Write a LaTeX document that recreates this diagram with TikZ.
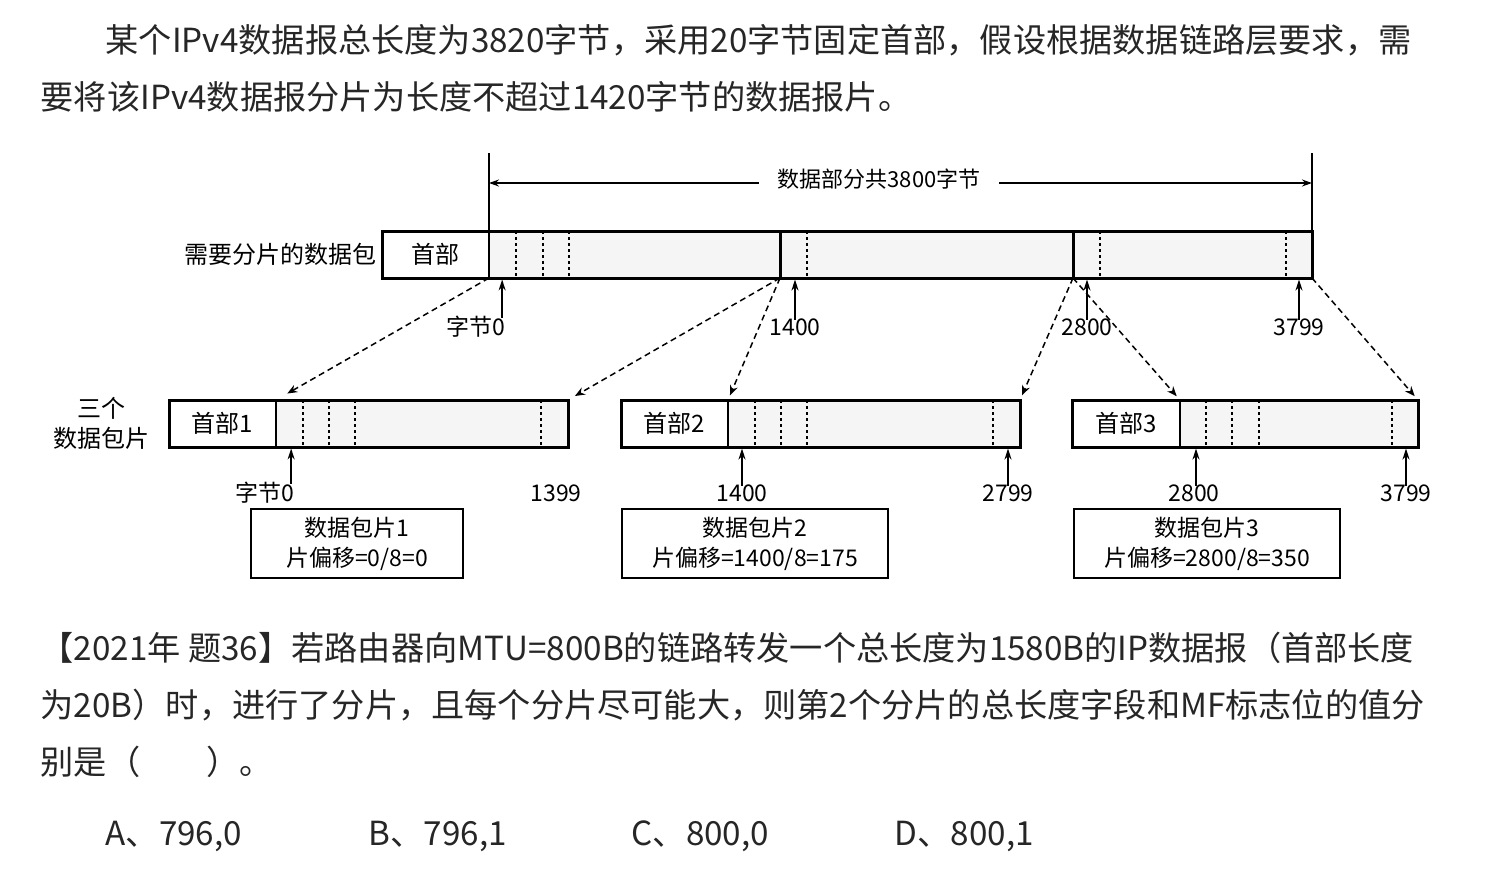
\documentclass[tikz,border=0pt]{standalone}
\usepackage{fontspec}
\setmainfont{Noto Sans CJK SC}
\usetikzlibrary{arrows.meta,positioning,calc}
\tikzset{
every picture/.style={
line width=1.5pt
}}
\tikzset{
  para/.style={anchor=west, inner sep=0pt, text=black!85, font=\fontsize{33.2}{38}\selectfont},
  lbl/.style={inner sep=0pt, font=\fontsize{23}{30}\selectfont},
  side/.style={inner sep=0pt, align=center, font=\fontsize{24}{30}\selectfont},
  hdr/.style={minimum width=107pt, minimum height=47pt, inner sep=0pt, outer sep=0pt,
    anchor=north west, font=\fontsize{24}{28}\selectfont},
  seg/.style={fill=gray!8, minimum height=47pt, inner sep=0pt, outer sep=0pt, anchor=north west},
  box/.style={line width=3pt},
  cut/.style={line width=3pt},
  dots/.style={line width=1.3pt, dash pattern=on 3pt off 3pt},
  up/.style={-{Stealth[length=11pt,width=7pt]}, line width=1.6pt, shorten >=1.5pt},
  frag/.style={dashed, dash pattern=on 6pt off 4pt, -{Stealth[length=10pt,width=8pt]}},
  info/.style={draw, line width=2pt, anchor=north west, align=center, inner sep=0pt,
    minimum height=69pt, font=\fontsize{23}{30}\selectfont},
  dim/.style={-{Stealth[length=10pt,width=7pt]}, line width=1.5pt}
}
\begin{document}
\begin{tikzpicture}[x=1pt, y=-1pt]
\useasboundingbox (0,0) rectangle (1486,871);

% question text
\node[para] (q1) at (105,40) {某个IPv4数据报总长度为3820字节，采用20字节固定首部，假设根据数据链路层要求，需};
\node[para] (q2) at (40,97) {要将该IPv4数据报分片为长度不超过1420字节的数据报片。};

% datagram to be fragmented
\node[hdr] (h0) at (382,231) {首部};
\node[seg, minimum width=291pt] (s1) at (h0.north east) {};
\node[seg, minimum width=293pt] (s2) at (s1.north east) {};
\node[seg, minimum width=239pt] (s3) at (s2.north east) {};
\foreach \d in {27,54,80} \draw[dots] ([xshift=\d pt]s1.north west) -- ([xshift=\d pt]s1.south west);
\draw[dots] ([xshift=27pt]s2.north west) -- ([xshift=27pt]s2.south west);
\foreach \d in {27,213} \draw[dots] ([xshift=\d pt]s3.north west) -- ([xshift=\d pt]s3.south west);
\draw[box] (h0.north west) rectangle (s3.south east);
\draw[cut] (s1.north east) -- (s1.south east) (s2.north east) -- (s2.south east);
\node[side, left=5pt of h0] (pk) {需要分片的数据包};

% data length
\coordinate (dimL) at ([yshift=48pt]s1.north west);
\coordinate (dimR) at ([yshift=48pt]s3.north east);
\draw (s1.south west) -- ([yshift=78pt]s1.north west);
\draw (s3.north east) -- ([yshift=78pt]s3.north east);
\node[lbl, font=\fontsize{22}{26}\selectfont, inner xsep=18pt] (dt) at (879,179) {数据部分共3800字节};
\draw[dim] (dt.west |- dimL) -- (dimL);
\draw[dim] (dt.east |- dimR) -- (dimR);

% byte numbers of the datagram
\node[lbl] (n0) at (476,327) {字节0};
\node[lbl] (n1) at (795,327) {1400};
\node[lbl] (n2) at (1087,327) {2800};
\node[lbl] (n3) at (1299,327) {3799};
\draw[up] ([xshift=-4pt,yshift=-2pt]n0.north east) -- ([xshift=-4pt]n0.north east |- s1.south);
\foreach \n/\s in {n1/s2,n2/s3,n3/s3} \draw[up] ([yshift=-2pt]\n.north) -- (\n.north |- \s.south);

% three fragments
\node[hdr] (h1) at (169,400) {首部1};
\node[seg, minimum width=292pt] (f1) at (h1.north east) {};
\node[hdr] (h2) at (621,400) {首部2};
\node[seg, minimum width=292pt] (f2) at (h2.north east) {};
\node[hdr, minimum width=108pt] (h3) at (1072,400) {首部3};
\node[seg, minimum width=238pt] (f3) at (h3.north east) {};
\foreach \f in {f1,f2} {
  \foreach \d in {27,53,79,265} \draw[dots] ([xshift=\d pt]\f.north west) -- ([xshift=\d pt]\f.south west);
}
\foreach \d in {26,52,79,212} \draw[dots] ([xshift=\d pt]f3.north west) -- ([xshift=\d pt]f3.south west);
\foreach \h/\f in {h1/f1,h2/f2,h3/f3} {
  \draw[box] (\h.north west) rectangle (\f.south east);
  \draw[line width=1.5pt] (\f.north west) -- (\f.south west);
}
\node[side, left=19pt of h1] (tf) {三个\\数据包片};

% fragments taken from the datagram
\draw[frag, shorten >=13pt] (s1.south west) -- (f1.north west);
\draw[frag, shorten >=8pt] (s1.south east) -- (f1.north east);
\draw[frag, shorten >=5pt] (s1.south east) -- (f2.north west);
\draw[frag, shorten >=5pt] (s2.south east) -- (f2.north east);
\draw[frag, shorten >=5pt] (s2.south east) -- (f3.north west);
\draw[frag, shorten >=5pt] (s3.south east) -- (f3.north east);

% byte numbers of the fragments
\node[lbl] (m0) at (265,493) {字节0};
\node[lbl] (m1) at (556,493) {1399};
\node[lbl] (m2) at (742,493) {1400};
\node[lbl] (m3) at (1008,493) {2799};
\node[lbl] (m4) at (1194,493) {2800};
\node[lbl] (m5) at (1406,493) {3799};
\draw[up] ([xshift=-4pt,yshift=-2pt]m0.north east) -- ([xshift=-4pt]m0.north east |- f1.south);
\foreach \n/\f in {m2/f2,m3/f2,m5/f3} \draw[up] ([yshift=-2pt]\n.north) -- (\n.north |- \f.south);
\draw[up] ([xshift=2pt,yshift=-2pt]m4.north) -- ([xshift=2pt]m4.north |- f3.south);

% fragment offsets
\node[info, minimum width=212pt] (i1) at (250,508) {数据包片1\\片偏移=0/8=0};
\node[info, minimum width=266pt] (i2) at (621,508) {数据包片2\\片偏移=1400/8=175};
\node[info, minimum width=266pt] (i3) at (1073,508) {数据包片3\\片偏移=2800/8=350};

% exam question
\node[para] (e1) at (40,648) {【2021年 题36】若路由器向MTU=800B的链路转发一个总长度为1580B的IP数据报（首部长度};
\node[para] (e2) at (40,705) {为20B）时，进行了分片，且每个分片尽可能大，则第2个分片的总长度字段和MF标志位的值分};
\node[para] (e3) at (40,762) {别是（\hspace{2em}）。};
\node[para] (oa) at (105,836) {A、796,0};
\node[para] (ob) at (368,836) {B、796,1};
\node[para] (oc) at (631,836) {C、800,0};
\node[para] (od) at (894,836) {D、800,1};
\end{tikzpicture}
\end{document}
